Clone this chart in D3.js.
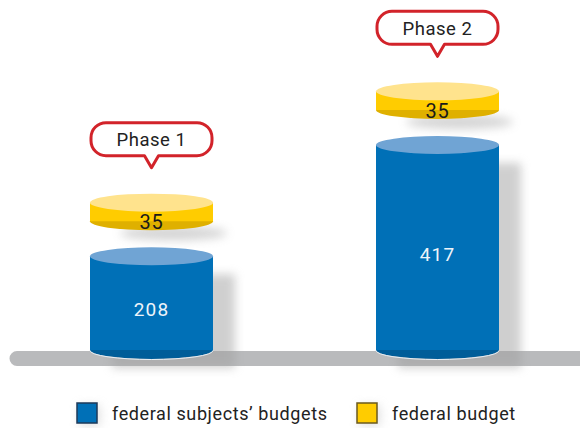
<!DOCTYPE html>
<html>
<head>
<meta charset="utf-8">
<script src="https://cdn.jsdelivr.net/npm/d3@7"></script>
<style>
  body { margin: 0; background: #fff; }
  svg { display: block; font-family: Roboto, "Liberation Sans", sans-serif; }
</style>
</head>
<body>
<svg id="chart" width="580" height="428"></svg>
<script>
const phases = ['Phase 1', 'Phase 2'];
const subjectValues = [208, 417];
const federalValues = [35, 35];
const legendLabels = ['federal subjects\u2019 budgets', 'federal budget'];

const colors = {
  blueSide: '#0070b7', blueTop: '#70a4d4', blueBottom: '#005d99',
  yellowSide: '#ffcc00', yellowTop: '#ffe38d', yellowBottom: '#dfb000',
};

const svg = d3.select('#chart');
const defs = svg.append('defs');
defs.append('filter')
  .attr('id', 'blur')
  .attr('x', '-50%').attr('y', '-50%').attr('width', '200%').attr('height', '200%')
  .append('feGaussianBlur')
  .attr('stdDeviation', 5);

const floorY = 350;
const rx = 61.5;
const ry = 9;

const x = d3.scalePoint().domain(phases).range([151.5, 437.5]);
// height of a value, measured from the outer edges of the ellipses
const y = d3.scaleLinear().domain([0, 417]).range([floorY + ry, floorY + ry - 222]);
const h = v => y(0) - y(v);

// floor
svg.append('path')
  .attr('d', 'M580,351 L17,351 A7.5,7.5 0 0 0 17,366 L580,366 Z')
  .attr('fill', '#b9babc');

function cylinder(g, cx, topC, botC, c, shadow) {
  if (shadow) {
    g.append('rect')
      .attr('x', cx - rx + 22).attr('y', topC + 18)
      .attr('width', 2 * rx).attr('height', botC - topC)
      .attr('fill', '#a0a0a0').attr('opacity', 0.5)
      .attr('filter', 'url(#blur)');
  }
  g.append('ellipse')
    .attr('cx', cx).attr('cy', botC).attr('rx', rx).attr('ry', ry)
    .attr('fill', c.bottom);
  g.append('rect')
    .attr('x', cx - rx).attr('y', topC)
    .attr('width', 2 * rx).attr('height', botC - topC)
    .attr('fill', c.side);
  g.append('ellipse')
    .attr('cx', cx).attr('cy', topC).attr('rx', rx).attr('ry', ry)
    .attr('fill', c.top);
}

phases.forEach((p, i) => {
  const g = svg.append('g');
  const cx = x(p);
  // blue cylinder
  const blueTop = floorY - (h(subjectValues[i]) - 2 * ry) - 1;
  const blueBot = floorY;
  cylinder(g, cx, blueTop, blueBot,
    { side: colors.blueSide, top: colors.blueTop, bottom: colors.blueBottom }, true);
  g.append('path')
    .attr('d', `M${cx - rx},${blueBot + 0.5} A${rx},${ry} 0 0 0 ${cx + rx},${blueBot + 0.5}`)
    .attr('fill', 'none').attr('stroke', '#e8eef4').attr('stroke-width', 1);
  g.append('text')
    .attr('x', cx).attr('y', (blueTop + blueBot) / 2 + 13)
    .attr('text-anchor', 'middle')
    .attr('font-size', 19)
    .attr('letter-spacing', 1.2)
    .attr('fill', '#eef4fa')
    .text(subjectValues[i]);

  // yellow disk
  const diskBot = blueTop - 35;
  const diskTop = diskBot - h(federalValues[i]);
  g.append('ellipse')
    .attr('cx', cx + 22).attr('cy', diskBot + 12).attr('rx', rx - 8).attr('ry', 7)
    .attr('fill', '#a0a0a0').attr('opacity', 0.45)
    .attr('filter', 'url(#blur)');
  cylinder(g, cx, diskTop, diskBot,
    { side: colors.yellowSide, top: colors.yellowTop, bottom: colors.yellowBottom }, false);
  g.append('text')
    .attr('x', cx).attr('y', diskBot + 8)
    .attr('text-anchor', 'middle')
    .attr('font-size', 20)
    .attr('letter-spacing', 0.8)
    .attr('fill', '#1a1a1a')
    .text(federalValues[i]);

  // phase bubble
  const bw = 121, bh = 33, r = 15;
  const tip = diskTop - 35;
  const bb = tip - 12;
  const bt = bb - bh;
  const l = cx - bw / 2, rr = cx + bw / 2;
  const d = `M${l + r},${bt} L${rr - r},${bt} A${r},${r} 0 0 1 ${rr},${bt + r}`
    + ` L${rr},${bb - r} A${r},${r} 0 0 1 ${rr - r},${bb}`
    + ` L${cx + 7},${bb} L${cx},${tip} L${cx - 7},${bb}`
    + ` L${l + r},${bb} A${r},${r} 0 0 1 ${l},${bb - r}`
    + ` L${l},${bt + r} A${r},${r} 0 0 1 ${l + r},${bt} Z`;
  g.append('path')
    .attr('d', d)
    .attr('fill', '#fff')
    .attr('stroke', '#d2232a')
    .attr('stroke-width', 3)
    .attr('stroke-linejoin', 'round');
  g.append('text')
    .attr('x', cx).attr('y', bt + bh / 2 + 7)
    .attr('text-anchor', 'middle')
    .attr('font-size', 18.5)
    .attr('letter-spacing', 0.5)
    .attr('fill', '#222')
    .text(p);
});

// legend
const legend = svg.append('g');
const legendX = [77, 357];
const legendFill = [colors.blueSide, colors.yellowSide];
const legendStroke = ['#1d3a5a', '#6b5a1e'];
legendLabels.forEach((lab, i) => {
  legend.append('rect')
    .attr('x', legendX[i] + 2).attr('y', 405)
    .attr('width', 21).attr('height', 21)
    .attr('fill', '#ccc').attr('filter', 'url(#blur)').attr('opacity', 0.6);
  legend.append('rect')
    .attr('x', legendX[i]).attr('y', 403)
    .attr('width', 20).attr('height', 20)
    .attr('fill', legendFill[i])
    .attr('stroke', legendStroke[i])
    .attr('stroke-width', 1.5);
  legend.append('text')
    .attr('x', legendX[i] + 35).attr('y', 420)
    .attr('font-size', 18)
    .attr('letter-spacing', 0.6)
    .attr('fill', '#222')
    .text(lab);
});
</script>
</body>
</html>
